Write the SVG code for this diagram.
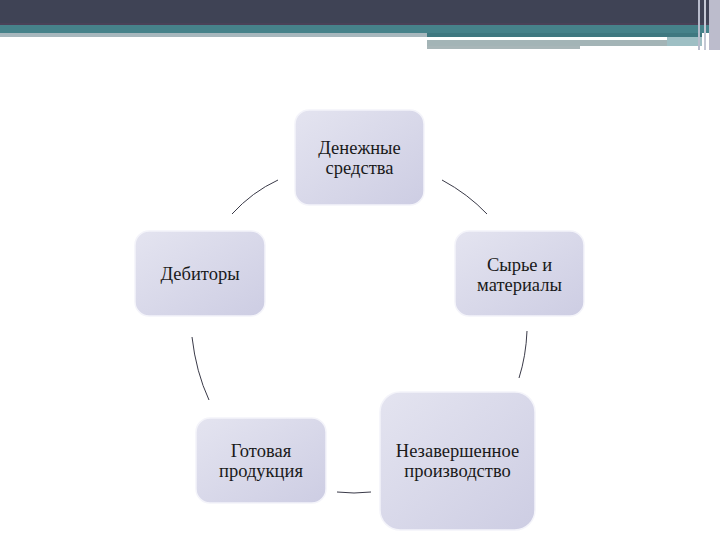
<svg xmlns="http://www.w3.org/2000/svg" width="720" height="540" viewBox="0 0 720 540">
<defs>
<linearGradient id="g" x1="0" y1="0" x2="1" y2="1">
<stop offset="0" stop-color="#e4e4f0"/>
<stop offset="1" stop-color="#cdcde3"/>
</linearGradient>
<style>
.box{fill:url(#g);stroke:#f4f4fa;stroke-width:1.5}
.t{font-family:"Liberation Serif","DejaVu Serif",serif;font-size:18.5px;fill:#1a1a1a;text-anchor:middle}
.c{fill:none;stroke:#3a3a48;stroke-width:1}
</style>
</defs>
<rect width="720" height="540" fill="#ffffff"/>
<g id="header">
<rect x="0" y="0" width="720" height="25" fill="#3f4355"/>
<rect x="0" y="23" width="720" height="2" fill="#4a4258"/>
<rect x="0" y="25" width="720" height="8" fill="#46828a"/>
<rect x="0" y="33" width="427" height="4" fill="#a7b7bd"/>
<rect x="427" y="33" width="275" height="4" fill="#3f7880"/>
<rect x="427" y="37" width="240" height="3" fill="#ffffff"/>
<rect x="427" y="40" width="240" height="6" fill="#a3b4b6"/>
<rect x="427" y="46" width="153" height="3" fill="#a8b6b8"/>
<rect x="667" y="37" width="35" height="9" fill="#9ebfc4"/>
<rect x="698" y="0" width="2" height="50" fill="#b8bccc"/>
<rect x="704" y="0" width="2" height="50" fill="#c4c8d4"/>
<rect x="709" y="0" width="11" height="50" fill="#bcbccc"/>
</g>
<g id="connectors">
<path class="c" d="M232 214 Q252 192 278 180"/>
<path class="c" d="M442 180 Q468 194 487 214"/>
<path class="c" d="M527 331 Q526 356 519 378"/>
<path class="c" d="M337 492 Q354 494 371 492"/>
<path class="c" d="M192 337 Q196 372 209 400"/>
</g>
<g id="n1">
<rect class="box" x="295" y="110" width="129" height="95" rx="14"/>
<text class="t" x="359.5" y="154">Денежные</text>
<text class="t" x="359.5" y="174">средства</text>
</g>
<g id="n2">
<rect class="box" x="455" y="231" width="129" height="85" rx="14"/>
<text class="t" x="519.5" y="271">Сырье и</text>
<text class="t" x="519.5" y="291">материалы</text>
</g>
<g id="n3">
<rect class="box" x="380" y="392" width="155" height="138" rx="20"/>
<text class="t" x="457.5" y="457">Незавершенное</text>
<text class="t" x="457.5" y="477">производство</text>
</g>
<g id="n4">
<rect class="box" x="196" y="418" width="130" height="85" rx="14"/>
<text class="t" x="261" y="457">Готовая</text>
<text class="t" x="261" y="477">продукция</text>
</g>
<g id="n5">
<rect class="box" x="135" y="231" width="130" height="85" rx="14"/>
<text class="t" x="200" y="280">Дебиторы</text>
</g>
</svg>
